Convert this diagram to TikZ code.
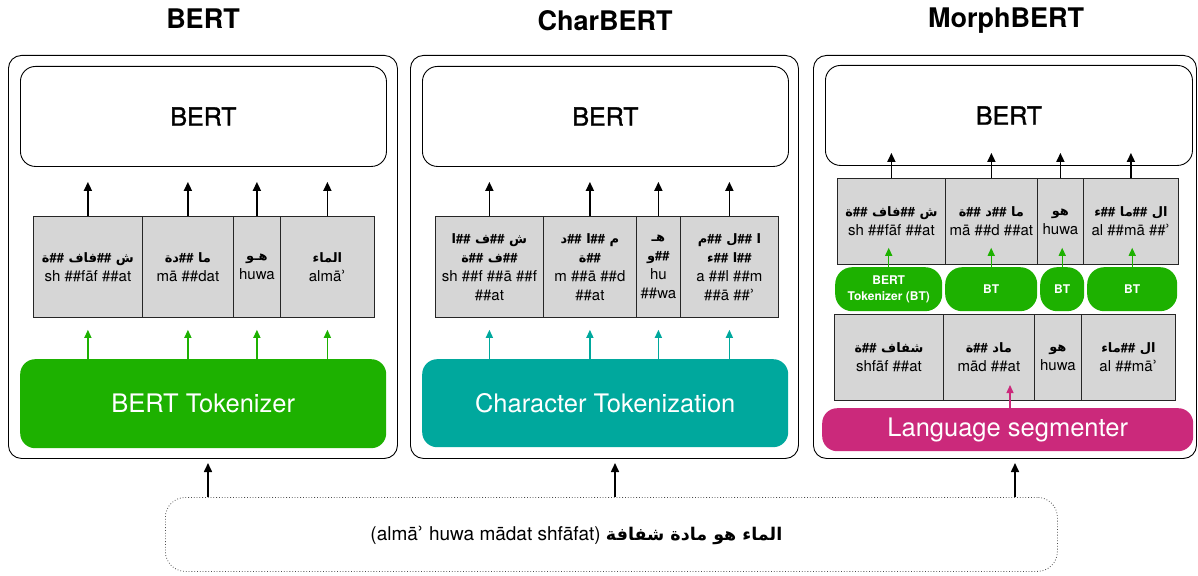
\documentclass[tikz,border=0pt]{standalone}
\usepackage{fontspec}
\setmainfont{TeX Gyre Heros}
\newfontfamily\arabicfont[Script=Arabic]{DejaVu Sans}
\newfontfamily\dvfont{DejaVu Sans}
\newfontfamily\medfont[FakeBold=1.3]{TeX Gyre Heros}
\TeXXeTstate=1
\usetikzlibrary{arrows.meta}
\definecolor{tokgreen}{RGB}{29,177,0}
\definecolor{tokteal}{RGB}{0,168,157}
\definecolor{segpink}{RGB}{203,41,123}
\definecolor{cellgray}{RGB}{214,214,214}
\newcommand{\hh}{\hbox{\rmfamily\bfseries\#\#}}
\newcommand{\arline}[1]{{\arabicfont\bfseries\fontsize{13}{19}\selectfont\beginR #1\endR}}
\newcommand{\hmz}{{\dvfont ʾ}}
\tikzset{
  panel/.style={draw=black, line width=0.9pt, rounded corners=13pt, anchor=north west, inner sep=0pt},
  bertbox/.style={draw=black, line width=0.9pt, rounded corners=15pt, anchor=north west, inner sep=0pt},
  bertlabel/.style={font=\medfont\fontsize{25}{30}\selectfont},
  title/.style={font=\bfseries\fontsize{27}{32}\selectfont},
  cell/.style={draw=black!85, fill=cellgray, line width=0.8pt, anchor=north west, inner sep=0pt, align=center, font=\fontsize{15}{19}\selectfont},
  tokbox/.style={rounded corners=15pt, anchor=north west, inner sep=0pt, text=white, font=\fontsize{25.5}{30}\selectfont},
  pill/.style={fill=tokgreen, rounded corners=17pt, anchor=north west, inner sep=0pt, text=white, align=center, font=\bfseries\fontsize{12}{16}\selectfont},
  blkarrow/.style={draw=black, line width=1.6pt, -{Triangle[length=9pt,width=8pt]}},
  grnarrow/.style={draw=tokgreen, line width=1.3pt, -{Triangle[length=8pt,width=7pt]}},
  tealarrow/.style={draw=tokteal, line width=1.3pt, -{Triangle[length=8pt,width=7pt]}},
  pinkarrow/.style={draw=segpink, line width=1.3pt, -{Triangle[length=8pt,width=7pt]}},
}
\begin{document}
\begin{tikzpicture}[x=1pt,y=-1pt]
\useasboundingbox (0,0) rectangle (1198,575);

% titles
\node[title] (T1) at (203,19) {BERT};
\node[title] (T2) at (605,21) {CharBERT};
\node[title] (T3) at (1006,21) {MorphBERT};

% panels
\node[panel, minimum width=389pt, minimum height=403pt] (P1) at (8,55) {};
\node[panel, minimum width=388pt, minimum height=403pt] (P2) at (410,55) {};
\node[panel, minimum width=383pt, minimum height=403pt] (P3) at (813,55) {};

% BERT boxes
\node[bertbox, minimum width=366pt, minimum height=100pt] (B1) at (20,66) {};
\node[bertlabel] at (B1.center) {BERT};
\node[bertbox, minimum width=366pt, minimum height=100pt] (B2) at (422,66) {};
\node[bertlabel] at (B2.center) {BERT};
\node[bertbox, minimum width=367pt, minimum height=100pt] (B3) at (825,65) {};
\node[bertlabel] at (B3.center) {BERT};

% table 1
\node[cell, minimum width=109pt, minimum height=101pt] (a1) at (33,216) {\arline{ش \hh فاف \hh ة}\\ sh \#\#fāf \#\#at};
\node[cell, minimum width=91pt, minimum height=101pt] (a2) at (142,216) {\arline{ما \hh دة}\\ mā \#\#dat};
\node[cell, minimum width=47pt, minimum height=101pt] (a3) at (233,216) {\arline{هـو}\\ huwa};
\node[cell, minimum width=94pt, minimum height=101pt] (a4) at (280,216) {\arline{الماء}\\ almā\hmz};

% table 2
\node[cell, minimum width=108pt, minimum height=101pt] (b1) at (435,216) {\arline{ش \hh ف \hh ا}\\ \arline{\hh ف \hh ة}\\ sh \#\#f \#\#ā \#\#f\\ \#\#at};
\node[cell, minimum width=93pt, minimum height=101pt] (b2) at (543,216) {\arline{م \hh ا \hh د}\\ \arline{\hh ة}\\ m \#\#ā \#\#d\\ \#\#at};
\node[cell, minimum width=44pt, minimum height=101pt] (b3) at (636,216) {\arline{هـ}\\ \arline{\hh و}\\ hu\\ \#\#wa};
\node[cell, minimum width=98pt, minimum height=101pt] (b4) at (680,216) {\arline{ا \hh ل \hh م}\\ \arline{\hh ا \hh ء}\\ a \#\#l \#\#m\\ \#\#ā \#\#\hmz};

% table 3 (top)
\node[cell, minimum width=108pt, minimum height=86pt] (c1) at (837,178) {\arline{ش \hh فاف \hh ة}\\ sh \#\#fāf \#\#at};
\node[cell, minimum width=92pt, minimum height=86pt] (c2) at (945,178) {\arline{ما \hh د \hh ة}\\ mā \#\#d \#\#at};
\node[cell, minimum width=46pt, minimum height=86pt] (c3) at (1037,178) {\arline{هو}\\ huwa};
\node[cell, minimum width=95pt, minimum height=86pt] (c4) at (1083,178) {\arline{ال \hh ما \hh ء}\\ al \#\#mā \#\#\hmz};

% pills
\node[pill, minimum width=107pt, minimum height=44pt] (p1) at (835,267) {BERT\\ Tokenizer (BT)};
\node[pill, minimum width=92pt, minimum height=44pt] (p2) at (945,267) {BT};
\node[pill, minimum width=44pt, minimum height=44pt] (p3) at (1040,267) {BT};
\node[pill, minimum width=90pt, minimum height=44pt] (p4) at (1087,267) {BT};

% table 4 (bottom)
\node[cell, minimum width=109pt, minimum height=86pt] (d1) at (834,314) {\arline{شفاف \hh ة}\\ shfāf \#\#at};
\node[cell, minimum width=91pt, minimum height=86pt] (d2) at (943,314) {\arline{ماد \hh ة}\\ mād \#\#at};
\node[cell, minimum width=47pt, minimum height=86pt] (d3) at (1034,314) {\arline{هو}\\ huwa};
\node[cell, minimum width=94pt, minimum height=86pt] (d4) at (1081,314) {\arline{ال \hh ماء}\\ al \#\#mā\hmz};

% tokenizer boxes
\node[tokbox, fill=tokgreen, minimum width=366pt, minimum height=89pt] (G1) at (20,359) {BERT Tokenizer};
\node[tokbox, fill=tokteal, minimum width=366pt, minimum height=88pt] (G2) at (422,359) {Character Tokenization};
\node[tokbox, fill=segpink, rounded corners=15pt, minimum width=371pt, minimum height=43pt] (G3) at (822,408) {Language segmenter};

% input box
\node[draw=black!70, dotted, line width=0.8pt, rounded corners=20pt, anchor=north west, inner sep=0pt, minimum width=892pt, minimum height=74pt] (IN) at (165,497) {};
\node (INtext) at ([xshift=-35pt,yshift=-1pt]IN.center) {\fontsize{19}{22}\selectfont (almā\hmz{} huwa mādat shfāfat) {\arabicfont\bfseries\fontsize{17.5}{22}\selectfont\beginR الماء هو مادة شفافة\endR}};

% arrows: tables to BERT
\foreach \c/\b in {a1/B1,a2/B1,a3/B1,a4/B1,b1/B2,b2/B2,b3/B2,b4/B2}{
  \draw[blkarrow, shorten >=15pt] (\c.north) -- (\c.north |- \b.south);
}
\foreach \c in {c1,c2,c3,c4}{
  \draw[blkarrow, shorten >=-13pt] (\c.north) -- (\c.north |- B3.south);
}
% tokenizer to tables
\foreach \c in {a1,a2,a3,a4}{
  \draw[grnarrow, shorten >=12pt] (\c.south |- G1.north) -- (\c.south);
}
\foreach \c in {b1,b2,b3,b4}{
  \draw[tealarrow, shorten >=12pt] (\c.south |- G2.north) -- (\c.south);
}
\foreach \p/\c in {p1/c1,p2/c2,p3/c3,p4/c4}{
  \draw[grnarrow, shorten >=-17pt] (\p.north) -- (\p.north |- \c.south);
}
\coordinate (pinktip) at (1010,385);
\draw[pinkarrow] (pinktip |- G3.north) -- (pinktip);

% input arrows
\coordinate (in1) at (208,463);
\coordinate (in2) at (615,463);
\coordinate (in3) at (1015,463);
\draw[blkarrow] (in1 |- IN.north) -- (in1);
\draw[blkarrow] (in2 |- IN.north) -- (in2);
\draw[blkarrow] (in3 |- IN.north) -- (in3);
\end{tikzpicture}
\end{document}
